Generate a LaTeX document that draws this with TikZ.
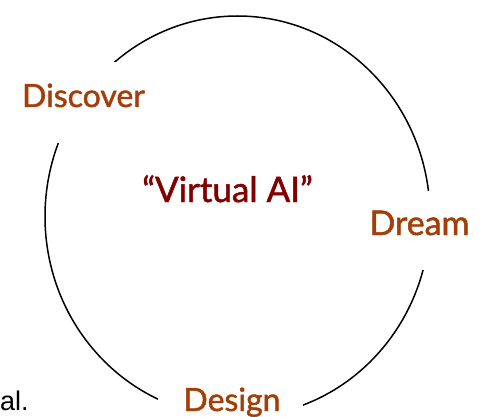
\documentclass[tikz,border=0pt]{standalone}
\usepackage{fontspec}
\setmainfont{Lato}[FakeBold=1.2]
\newfontfamily\labelfont{Lato}[FakeBold=1.4]
\newfontfamily\arialfont{Liberation Sans}
\definecolor{phase}{RGB}{163,62,8}
\definecolor{core}{RGB}{128,0,0}
\begin{document}
\begin{tikzpicture}[x=1pt,y=-1pt,
  phaselabel/.style={anchor=base,text=phase,inner sep=0pt,font=\labelfont\fontsize{32}{36}\selectfont},
  corelabel/.style={anchor=base,text=core,inner sep=0pt,font=\labelfont\fontsize{35}{40}\selectfont},
  gap/.style={fill=white,draw=none}]
\useasboundingbox (0,0) rectangle (487,417);
\fill[white] (0,0) rectangle (487,417);
% the cycle
\draw[line width=1.5pt] (237.5,216.5) ellipse [x radius=192.5, y radius=200.5];
% white gaps behind the phase names
\fill[gap] (0,62) rectangle (150,143);
\fill[gap] (380,191) rectangle (487,270);
\fill[gap] (158,397) rectangle (303,417);
% labels
\node[phaselabel] (discover) at (83.5,107) {Discover};
\node[phaselabel,font=\labelfont\fontsize{34}{38}\selectfont] (dream) at (419.5,235) {Dream};
\node[phaselabel] (design) at (232,411) {Design};
\node[corelabel] (virtual) at (227.5,202) {“Virtual AI”};
\node[anchor=base west,inner sep=0pt,font=\arialfont\fontsize{27}{30}\selectfont] (al) at (0,410) {al.};
\end{tikzpicture}
\end{document}
